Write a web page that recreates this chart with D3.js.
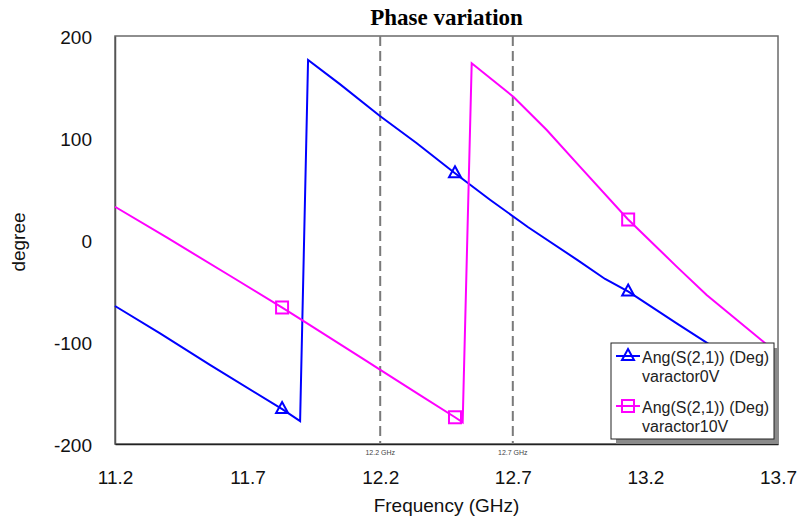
<!DOCTYPE html>
<html lang="en">
<head>
<meta charset="utf-8">
<title>Phase variation</title>
<script src="https://cdnjs.cloudflare.com/ajax/libs/d3/7.8.5/d3.min.js"></script>
<style>
  body { margin: 0; background: #ffffff; }
  text { font-family: "Liberation Sans", Arial, sans-serif; }
</style>
</head>
<body>
<svg id="chart" width="799" height="517"></svg>
<script>
// series: varactor 0 V (blue, triangles)
const freq0V  = [11.2, 11.37, 11.558, 11.832, 11.898, 11.928, 12.048, 12.199, 12.338, 12.482, 12.614, 12.758, 12.947, 13.048, 13.136, 13.318, 13.425, 13.7];
const phase0V = [-64.7, -91.5, -122.5, -166, -177.5, 176.5, 152.8, 121.6, 94.8, 65.4, 39.5, 12.5, -20.2, -38.2, -50.7, -81.7, -99.7, -146.5];

// series: varactor 10 V (magenta, squares)
const freq10V  = [11.2, 11.395, 11.646, 11.829, 11.898, 12.149, 12.199, 12.35, 12.482, 12.511, 12.545, 12.702, 12.828, 12.953, 13.133, 13.318, 13.431, 13.645, 13.7];
const phase10V = [32.6, 2.5, -37, -66, -77.4, -118.8, -127, -152, -173.8, -178.8, 173.2, 140.5, 107.8, 71.9, 20.6, -26.1, -53.9, -99.7, -111.5];

const markerFreqs = [11.83, 12.482, 13.135];
const markerLines = [12.2, 12.7];
const markerLabels = ["12.2 GHz", "12.7 GHz"];
const xTicks = [11.2, 11.7, 12.2, 12.7, 13.2, 13.7];
const yTicks = [-200, -100, 0, 100, 200];
const legendNames = [["Ang(S(2,1)) (Deg)", "varactor0V"], ["Ang(S(2,1)) (Deg)", "varactor10V"]];

const svg = d3.select("#chart");
const plotL = 115, plotR = 778, plotT = 36, plotB = 444;

const x = d3.scaleLinear().domain([11.2, 13.7]).range([plotL, plotR]);
const y = d3.scaleLinear().domain([-200, 200]).range([plotB, plotT]);

// title
svg.append("text")
  .attr("x", (plotL + plotR) / 2).attr("y", 25)
  .attr("text-anchor", "middle")
  .style("font-family", "'Liberation Serif', 'Times New Roman', serif")
  .style("font-weight", "bold").style("font-size", "23px")
  .text("Phase variation");

// plot frame
svg.append("rect")
  .attr("x", plotL).attr("y", plotT)
  .attr("width", plotR - plotL).attr("height", plotB - plotT)
  .attr("fill", "none").attr("stroke", "#6a6a6a").attr("stroke-width", 1.5);

// axes
const yAxis = svg.append("g")
  .attr("transform", `translate(${plotL},0)`)
  .call(d3.axisLeft(y).tickValues(yTicks).tickSize(0).tickPadding(23).tickFormat(d => String(d)));
yAxis.select(".domain").attr("stroke", "#555").attr("stroke-width", 1.5);
yAxis.selectAll("text").style("font-size", "19px").attr("fill", "#111").attr("dy", "0.42em");

const xAxis = svg.append("g")
  .attr("transform", `translate(0,${plotB})`)
  .call(d3.axisBottom(x).tickValues(xTicks).tickSize(0).tickPadding(27).tickFormat(d3.format(".1f")));
xAxis.select(".domain").attr("stroke", "#222").attr("stroke-width", 1.5);
xAxis.selectAll("text").style("font-size", "19px").attr("fill", "#111");

svg.append("text")
  .attr("x", (plotL + plotR) / 2).attr("y", 512)
  .attr("text-anchor", "middle").style("font-size", "19px").attr("fill", "#111")
  .text("Frequency (GHz)");

svg.append("text")
  .attr("transform", "translate(25,242) rotate(-90)")
  .attr("text-anchor", "middle").style("font-size", "19px").attr("fill", "#111")
  .text("degree");

// dashed frequency markers
svg.selectAll(".mline").data(markerLines).enter().append("line")
  .attr("x1", d => x(d)).attr("x2", d => x(d))
  .attr("y1", plotT).attr("y2", plotB)
  .attr("stroke", "#7a7a7a").attr("stroke-width", 2).attr("stroke-dasharray", "10,5");

svg.selectAll(".mlabel").data(markerLines).enter().append("text")
  .attr("x", d => x(d)).attr("y", 455)
  .attr("text-anchor", "middle").style("font-size", "7px").attr("fill", "#444")
  .text((d, i) => markerLabels[i]);

// curves
const line = d3.line().x(d => x(d[0])).y(d => y(d[1]));
const series = [
  { f: freq0V, v: phase0V, color: "#0000ff", marker: "tri" },
  { f: freq10V, v: phase10V, color: "#ff00ff", marker: "sq" }
];

function interp(fs, vs, f) {
  for (let i = 0; i < fs.length - 1; i++) {
    if (f >= fs[i] && f <= fs[i + 1]) {
      const t = (f - fs[i]) / (fs[i + 1] - fs[i]);
      return vs[i] + t * (vs[i + 1] - vs[i]);
    }
  }
  return vs[vs.length - 1];
}

function drawMarker(g, type, cx, cy, color) {
  if (type === "tri") {
    g.append("path")
      .attr("d", `M${cx},${cy - 7}L${cx + 6},${cy + 4}L${cx - 6},${cy + 4}Z`)
      .attr("fill", "none").attr("stroke", color).attr("stroke-width", 2);
  } else {
    g.append("rect")
      .attr("x", cx - 6).attr("y", cy - 6).attr("width", 12).attr("height", 12)
      .attr("fill", "none").attr("stroke", color).attr("stroke-width", 2);
  }
}

series.forEach(s => {
  const pts = s.f.map((f, i) => [f, s.v[i]]);
  svg.append("path").datum(pts)
    .attr("d", line)
    .attr("fill", "none").attr("stroke", s.color).attr("stroke-width", 2);
  const g = svg.append("g");
  markerFreqs.forEach(f => drawMarker(g, s.marker, x(f), y(interp(s.f, s.v, f)), s.color));
});

// legend
const lg = svg.append("g");
lg.append("rect").attr("x", 616).attr("y", 348).attr("width", 163).attr("height", 96).attr("fill", "#8a8a8a");
lg.append("rect").attr("x", 611).attr("y", 343).attr("width", 163).attr("height", 96)
  .attr("fill", "#ffffff").attr("stroke", "#222").attr("stroke-width", 1);

series.forEach((s, i) => {
  const yy = 356 + i * 50;
  lg.append("line").attr("x1", 616).attr("x2", 640).attr("y1", yy).attr("y2", yy)
    .attr("stroke", s.color).attr("stroke-width", 2);
  drawMarker(lg, s.marker, 628, yy, s.color);
  lg.append("text").attr("x", 642).attr("y", yy + 7)
    .style("font-size", "16px").attr("fill", "#222").text(legendNames[i][0]);
  lg.append("text").attr("x", 642).attr("y", yy + 26)
    .style("font-size", "16px").attr("fill", "#222").text(legendNames[i][1]);
});
</script>
</body>
</html>
